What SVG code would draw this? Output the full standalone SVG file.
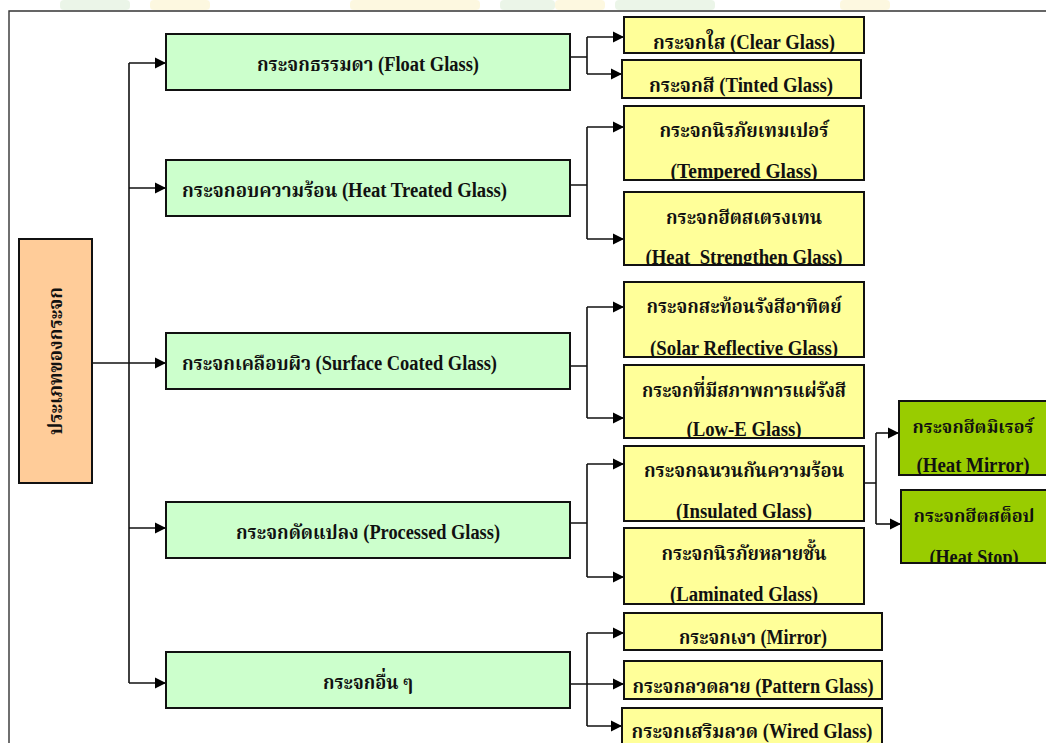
<svg xmlns="http://www.w3.org/2000/svg" width="1046" height="743" viewBox="0 0 1046 743">
<style>
.g1{fill:#CCFFCC;stroke:#111;stroke-width:2}
.y{fill:#FFFF99;stroke:#111;stroke-width:2}
.g2{fill:#99CC00;stroke:#111;stroke-width:2}
.rt{fill:#FFCC99;stroke:#111;stroke-width:2}
text{font-family:"Liberation Serif","Noto Serif Thai","Noto Sans Thai",serif;font-weight:bold;font-size:20px;fill:#111}
.c{text-anchor:middle}
.sm{font-size:18px}
.ln{fill:none;stroke:#111;stroke-width:1.6}
.ar{fill:none;stroke:#111;stroke-width:1.6;marker-end:url(#ah)}
.wm1{fill:#FBF3CC;opacity:0.6}
.wm2{fill:#DDEFD8;opacity:0.6}
</style>
<defs>
<marker id="ah" markerUnits="userSpaceOnUse" markerWidth="12" markerHeight="12" refX="11" refY="5.5" orient="auto" viewBox="0 0 12 11">
<path d="M0,0 L11,5.5 L0,11 z" fill="#000"/>
</marker>
<clipPath id="k1"><rect x="625" y="145" width="238" height="34"/></clipPath>
<clipPath id="k2"><rect x="625" y="230" width="238" height="34"/></clipPath>
<clipPath id="k3"><rect x="625" y="320" width="238" height="36"/></clipPath>
<clipPath id="k4"><rect x="625" y="403" width="238" height="34"/></clipPath>
<clipPath id="k5"><rect x="625" y="484" width="238" height="36"/></clipPath>
<clipPath id="k6"><rect x="625" y="566" width="238" height="37"/></clipPath>
<clipPath id="k7"><rect x="900" y="440" width="146" height="34"/></clipPath>
<clipPath id="k8"><rect x="902" y="528" width="144" height="34"/></clipPath>
</defs>
<rect width="1046" height="743" fill="#fff"/>
<g id="watermark">
<rect class="wm2" x="60" y="0" width="70" height="10" rx="4"/>
<rect class="wm1" x="150" y="0" width="60" height="10" rx="4"/>
<rect class="wm1" x="350" y="0" width="130" height="10" rx="4"/>
<rect class="wm2" x="500" y="0" width="55" height="10" rx="4"/>
<rect class="wm1" x="555" y="0" width="50" height="10" rx="4"/>
<rect class="wm2" x="615" y="0" width="100" height="10" rx="4"/>
<rect class="wm1" x="840" y="0" width="50" height="10" rx="4"/>
</g>
<path id="frame" d="M9,743 V11 H1046" fill="none" stroke="#333" stroke-width="1.4"/>
<g id="connectors">
<path class="ln" d="M129,63 V683"/>
<path class="ar" d="M129,63 H166"/>
<path class="ar" d="M129,188 H166"/>
<path class="ar" d="M92,363 H166"/>
<path class="ar" d="M129,528 H166"/>
<path class="ar" d="M129,683 H166"/>
<path class="ln" d="M570,57 H587 M587,37 V74"/>
<path class="ar" d="M587,37 H624"/>
<path class="ar" d="M587,74 H622"/>
<path class="ln" d="M570,185 H587 M587,127 V239"/>
<path class="ar" d="M587,127 H624"/>
<path class="ar" d="M587,239 H624"/>
<path class="ln" d="M570,366 H587 M587,307 V418"/>
<path class="ar" d="M587,307 H624"/>
<path class="ar" d="M587,418 H624"/>
<path class="ln" d="M570,523 H587 M587,464 V577"/>
<path class="ar" d="M587,464 H624"/>
<path class="ar" d="M587,577 H624"/>
<path class="ln" d="M570,684 H587 M587,633 V726"/>
<path class="ar" d="M587,633 H624"/>
<path class="ar" d="M587,684 H624"/>
<path class="ar" d="M587,726 H622"/>
<path class="ln" d="M864,483 H876 M876,433 V524"/>
<path class="ar" d="M876,433 H899"/>
<path class="ar" d="M876,524 H901"/>
</g>
<g id="root">
<rect class="rt" x="19" y="239" width="73" height="244"/>
<text class="c" transform="translate(62,361) rotate(-90)" textLength="148" lengthAdjust="spacingAndGlyphs">ประเภทของกระจก</text>
</g>
<g id="float">
<rect class="g1" x="166" y="34" width="404" height="56"/>
<text class="c" x="368" y="71" textLength="222" lengthAdjust="spacingAndGlyphs">กระจกธรรมดา (Float Glass)</text>
</g>
<g id="heat-treated">
<rect class="g1" x="166" y="160" width="404" height="56"/>
<text x="182" y="197" textLength="325" lengthAdjust="spacingAndGlyphs">กระจกอบความร้อน (Heat Treated Glass)</text>
</g>
<g id="surface-coated">
<rect class="g1" x="166" y="333" width="404" height="56"/>
<text x="182" y="370" textLength="315" lengthAdjust="spacingAndGlyphs">กระจกเคลือบผิว (Surface Coated Glass)</text>
</g>
<g id="processed">
<rect class="g1" x="166" y="502" width="404" height="56"/>
<text class="c" x="368" y="539" textLength="264" lengthAdjust="spacingAndGlyphs">กระจกดัดแปลง (Processed Glass)</text>
</g>
<g id="others">
<rect class="g1" x="166" y="652" width="404" height="56"/>
<text class="c" x="368" y="689" textLength="90" lengthAdjust="spacingAndGlyphs">กระจกอื่น ๆ</text>
</g>
<g id="clear">
<rect class="y" x="624" y="17" width="240" height="36"/>
<text class="c" x="744" y="49" textLength="182" lengthAdjust="spacingAndGlyphs">กระจกใส (Clear Glass)</text>
</g>
<g id="tinted">
<rect class="y" x="622" y="60" width="239" height="38"/>
<text class="c" x="741" y="92" textLength="184" lengthAdjust="spacingAndGlyphs">กระจกสี (Tinted Glass)</text>
</g>
<g id="tempered">
<rect class="y" x="624" y="106" width="240" height="74"/>
<text class="c" x="744" y="137" textLength="169" lengthAdjust="spacingAndGlyphs">กระจกนิรภัยเทมเปอร์</text>
<text class="c" x="744" y="178" textLength="147" lengthAdjust="spacingAndGlyphs" clip-path="url(#k1)">(Tempered Glass)</text>
</g>
<g id="heat-strengthen">
<rect class="y" x="624" y="192" width="240" height="73"/>
<text class="c" x="744" y="224" textLength="156" lengthAdjust="spacingAndGlyphs">กระจกฮีตสเตรงเทน</text>
<text class="c" x="744" y="264" textLength="197" lengthAdjust="spacingAndGlyphs" xml:space="preserve" clip-path="url(#k2)">(Heat  Strengthen Glass)</text>
</g>
<g id="solar">
<rect class="y" x="624" y="282" width="240" height="75"/>
<text class="c" x="744" y="313" textLength="195" lengthAdjust="spacingAndGlyphs">กระจกสะท้อนรังสีอาทิตย์</text>
<text class="c" x="744" y="355" textLength="188" lengthAdjust="spacingAndGlyphs" clip-path="url(#k3)">(Solar Reflective Glass)</text>
</g>
<g id="low-e">
<rect class="y" x="624" y="365" width="240" height="73"/>
<text class="c" x="744" y="397" textLength="204" lengthAdjust="spacingAndGlyphs">กระจกที่มีสภาพการแผ่รังสี</text>
<text class="c" x="744" y="436" textLength="115" lengthAdjust="spacingAndGlyphs" clip-path="url(#k4)">(Low-E Glass)</text>
</g>
<g id="insulated">
<rect class="y" x="624" y="446" width="240" height="75"/>
<text class="c" x="744" y="477" textLength="200" lengthAdjust="spacingAndGlyphs">กระจกฉนวนกันความร้อน</text>
<text class="c" x="744" y="518" textLength="136" lengthAdjust="spacingAndGlyphs" clip-path="url(#k5)">(Insulated Glass)</text>
</g>
<g id="laminated">
<rect class="y" x="624" y="528" width="240" height="76"/>
<text class="c" x="744" y="560" textLength="165" lengthAdjust="spacingAndGlyphs">กระจกนิรภัยหลายชั้น</text>
<text class="c" x="744" y="601" textLength="148" lengthAdjust="spacingAndGlyphs" clip-path="url(#k6)">(Laminated Glass)</text>
</g>
<g id="mirror">
<rect class="y" x="624" y="613" width="258" height="37"/>
<text class="c" x="753" y="644" textLength="148" lengthAdjust="spacingAndGlyphs">กระจกเงา (Mirror)</text>
</g>
<g id="pattern">
<rect class="y" x="624" y="661" width="258" height="38"/>
<text class="c" x="753" y="693" textLength="241" lengthAdjust="spacingAndGlyphs">กระจกลวดลาย (Pattern Glass)</text>
</g>
<g id="wired">
<rect class="y" x="622" y="708" width="260" height="42"/>
<text class="c" x="752" y="738" textLength="241" lengthAdjust="spacingAndGlyphs">กระจกเสริมลวด (Wired Glass)</text>
</g>
<g id="heat-mirror">
<rect class="g2" x="899" y="401" width="148" height="74"/>
<text class="c sm" x="973" y="433" textLength="121" lengthAdjust="spacingAndGlyphs">กระจกฮีตมิเรอร์</text>
<text class="c" x="973" y="472" textLength="113" lengthAdjust="spacingAndGlyphs" clip-path="url(#k7)">(Heat Mirror)</text>
</g>
<g id="heat-stop">
<rect class="g2" x="901" y="490" width="146" height="73"/>
<text class="c sm" x="974" y="522" textLength="121" lengthAdjust="spacingAndGlyphs">กระจกฮีตสต็อป</text>
<text class="c" x="974" y="564" textLength="89" lengthAdjust="spacingAndGlyphs" clip-path="url(#k8)">(Heat Stop)</text>
</g>
</svg>
